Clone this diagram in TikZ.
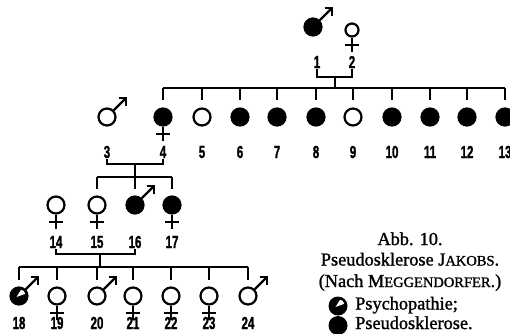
\documentclass[tikz,border=0pt]{standalone}
\usepackage{fontspec}
\newfontfamily\numfont[FakeStretch=0.66,FakeBold=1.2]{Liberation Sans}
\newfontfamily\capfont[FakeBold=1.3]{Liberation Serif}
\usetikzlibrary{calc}
\newcommand\fsc[1]{{\fontsize{14.5}{14.5}\selectfont #1}}
\newcommand\malesym[1]{%
  \draw[sym] (#1.45) -- ($(#1.center)+(19,-19)$);
  \draw[sym,line join=miter] ($(#1.center)+(11.5,-19)$) -- ($(#1.center)+(19,-19)$) -- ($(#1.center)+(19,-11.5)$);}
\newcommand\femsym[1]{%
  \draw[sym] (#1.south) -- ++(0,14);
  \draw[sym] ($(#1.south)+(-7,7.5)$) -- ++(14,0);}
\newcommand\psychsym[1]{%
  \fill[white] ($(#1.center)+(-2.5,1)$) -- ($(#1.center)+(6.2,-2.2)$) to[bend right=40] ($(#1.center)+(2,-6.2)$) -- cycle;}
\begin{document}
\begin{tikzpicture}[x=1pt,y=-1pt,
  sym/.style={line width=2.2pt},
  ped/.style={line width=1.9pt},
  ind/.style={circle,draw,line width=2.2pt,minimum size=17pt,inner sep=0pt},
  aff/.style={ind,fill=black},
  lab/.style={font=\numfont\bfseries\fontsize{17.5}{17.5}\selectfont,inner sep=0pt},
  txt/.style={font=\capfont\fontsize{18.3}{21}\selectfont,inner sep=0pt,anchor=base}]
\useasboundingbox (0,0) rectangle (510,333);
% Generation I
\node[aff] (p1) at (313,27) {};
\node[ind,minimum size=13pt] (p2) at (352,30) {};
\malesym{p1}
\femsym{p2}
\node[lab] (l1) at (317,62) {1};
\node[lab] (l2) at (352,62) {2};
\coordinate (m12) at (335,77);
\coordinate (s2) at (335,88);
\draw[ped] ($(l1.south)+(0,1)$) |- (m12) -| ($(l2.south)+(0,1)$);
\draw[ped] (m12) -- (s2);
% Generation II
\foreach \n/\x/\st in {3/107/ind,4/163/aff,5/202/ind,6/240/aff,7/277/aff,8/316/aff,9/353/ind,10/392/aff,11/430/aff,12/467/aff,13/505/aff}{
  \node[\st] (p\n) at (\x,117) {};
  \node[lab] (l\n) at (\x,152) {\n};
}
\malesym{p3}
\femsym{p4}
\draw[ped] (s2 -| p4) -- (s2 -| p13);
\foreach \n in {4,...,13}{\draw[ped] (s2 -| p\n) -- ++(0,12);}
\coordinate (m34) at (135,164);
\coordinate (s3) at (135,177);
\draw[ped] ($(l3.south)+(0,1)$) |- (m34) -| ($(l4.south)+(0,1)$);
\draw[ped] (m34) -- (s3);
% Generation III
\foreach \n/\x/\st in {14/56/ind,15/97/ind,16/135/aff,17/172/aff}{
  \node[\st] (p\n) at (\x,205) {};
  \node[lab] (l\n) at (\x,242) {\n};
}
\femsym{p14}
\femsym{p15}
\malesym{p16}
\femsym{p17}
\draw[ped] (s3 -| p15) -- (s3 -| p17);
\foreach \n in {15,16,17}{\draw[ped] (s3 -| p\n) -- ++(0,12);}
\coordinate (m1416) at (100,254);
\coordinate (s4) at (100,267);
\draw[ped] ($(l14.south)+(0,1)$) |- (m1416) -| ($(l16.south)+(0,1)$);
\draw[ped] (m1416) -- (s4);
% Generation IV
\foreach \n/\x/\st in {18/19/aff,19/57/ind,20/97/ind,21/133/ind,22/171/ind,23/209/ind,24/248/ind}{
  \node[\st] (p\n) at (\x,296) {};
  \node[lab] (l\n) at (\x,323) {\n};
}
\psychsym{p18}
\malesym{p18}
\malesym{p20}
\malesym{p24}
\foreach \n in {19,21,22,23}{\femsym{p\n}}
\draw[ped] (s4 -| p18) -- (s4 -| p24);
\foreach \n in {18,...,24}{\draw[ped] (s4 -| p\n) -- ++(0,13);}
% Legend
\node[txt] (t1) at (410,245) {Abb. 10.};
\node[txt] (t2) at (410,265.5) {Pseudosklerose J\fsc{AKOBS}.};
\node[txt] (t3) at (410,287) {(Nach M\fsc{EGGENDORFER}.)};
\node[circle,fill=black,minimum size=19pt,inner sep=0pt] (k1) at (338,306) {};
\psychsym{k1}
\node[circle,fill=black,minimum size=19pt,inner sep=0pt] (k2) at (338,325.5) {};
\node[txt,anchor=base west] (t4) at (355,309.5) {Psychopathie;};
\node[txt,anchor=base west] (t5) at (355,329) {Pseudosklerose.};
\end{tikzpicture}
\end{document}
